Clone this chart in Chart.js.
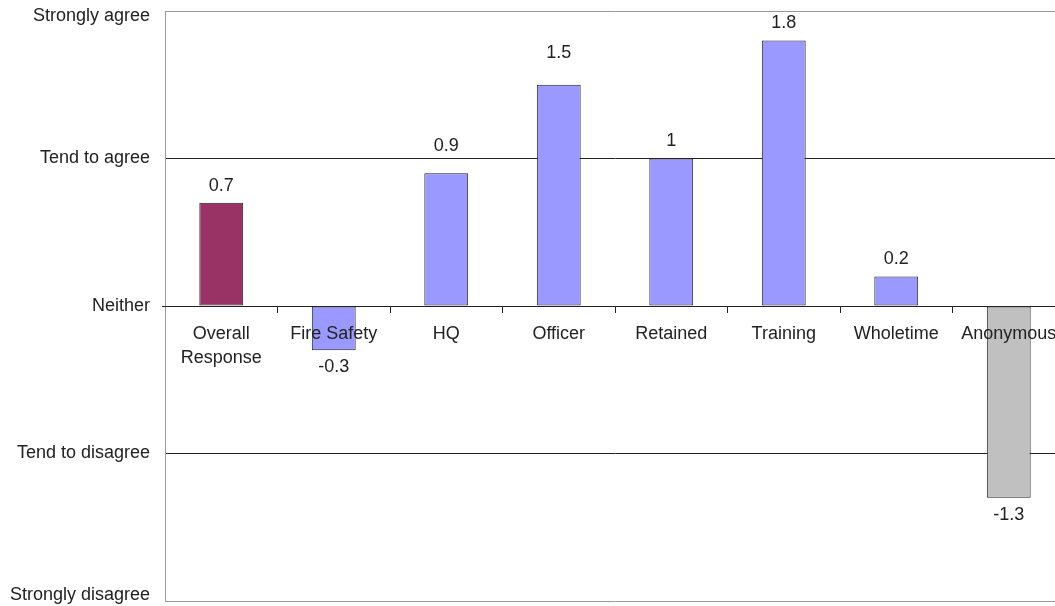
<!DOCTYPE html>
<html>
<head>
<meta charset="utf-8">
<script src="https://cdn.jsdelivr.net/npm/chart.js@4"></script>
<style>
  html, body { margin: 0; padding: 0; background: #fff; overflow: hidden; }
</style>
</head>
<body>
<canvas id="surveyChart" width="1070" height="606"></canvas>
<script>
// survey groups and their mean score (-2 .. 2)
const groups = [['Overall', 'Response'], 'Fire Safety', 'HQ', 'Officer', 'Retained', 'Training', 'Wholetime', 'Anonymous'];
const scores = [0.7, -0.3, 0.9, 1.5, 1, 1.8, 0.2, -1.3];
const scaleValues = [-2, -1, 0, 1, 2];
const scaleLabels = ['Strongly disagree', 'Tend to disagree', 'Neither', 'Tend to agree', 'Strongly agree'];
const barColours = ['#993366', '#9999FF', '#9999FF', '#9999FF', '#9999FF', '#9999FF', '#9999FF', '#C0C0C0'];
// extra lift for a couple of value labels sitting higher above their bar
const labelLift = [0, 0, 10, 15, 0, 0, 0, 0];

const FONT = 'Arial, "Liberation Sans", sans-serif';

// writes each bar's value just above (or below) the bar
const valueLabels = {
  id: 'valueLabels',
  afterDatasetsDraw(chart) {
    const ctx = chart.ctx;
    const meta = chart.getDatasetMeta(0);
    ctx.save();
    ctx.font = '18px ' + FONT;
    ctx.fillStyle = '#222';
    ctx.textAlign = 'center';
    ctx.textBaseline = 'middle';
    meta.data.forEach((bar, i) => {
      const v = scores[i];
      const y = v >= 0 ? bar.y - 17 - labelLift[i] : bar.y + 17;
      ctx.fillText(String(v), bar.x, y);
    });
    ctx.restore();
  }
};

// agreement scale labels, the end ones pulled in to stay clear of the edges
const scaleText = {
  id: 'scaleText',
  afterDraw(chart) {
    const ctx = chart.ctx;
    const y = chart.scales.y;
    ctx.save();
    ctx.font = '18px ' + FONT;
    ctx.fillStyle = '#222';
    ctx.textAlign = 'right';
    ctx.textBaseline = 'middle';
    scaleValues.forEach((v, i) => {
      const py = Math.min(Math.max(y.getPixelForValue(v), y.top + 5), y.bottom - 6);
      ctx.fillText(scaleLabels[i], y.right - 15, py);
    });
    // small stub of the zero line left of the axis
    ctx.strokeStyle = '#222';
    ctx.lineWidth = 1;
    const zy = Math.round(y.getPixelForValue(0)) + 0.5;
    ctx.beginPath();
    ctx.moveTo(y.right - 3, zy);
    ctx.lineTo(y.right, zy);
    ctx.stroke();
    ctx.restore();
  }
};

// no extra room for labels hanging past the plot edges
function noOverhang(scale) {
  scale.paddingTop = 0;
  scale.paddingBottom = 0;
  scale.paddingLeft = 0;
  scale.paddingRight = 0;
}

const ctx = document.getElementById('surveyChart').getContext('2d');
new Chart(ctx, {
  type: 'bar',
  data: {
    labels: groups,
    datasets: [{
      data: scores,
      backgroundColor: barColours,
      borderColor: '#222',
      borderWidth: 1,
      borderSkipped: false,
      barPercentage: 1,
      categoryPercentage: 0.39
    }]
  },
  options: {
    responsive: false,
    animation: false,
    layout: { padding: { top: 11, bottom: 5, right: 5, left: 0 } },
    plugins: {
      legend: { display: false },
      tooltip: { enabled: false }
    },
    scales: {
      x: {
        position: { y: 0 },
        afterFit(scale) { scale.height = 0; noOverhang(scale); },
        grid: {
          drawOnChartArea: false,
          drawTicks: true,
          tickLength: 6,
          color: c => (c.index === 0 ? 'rgba(0,0,0,0)' : '#222'),
          offset: true,
          z: 1
        },
        border: { display: true, color: '#222', width: 1, z: 1 },
        ticks: {
          color: '#222',
          padding: 10,
          maxRotation: 0,
          autoSkip: false,
          z: 1,
          font: { family: FONT, size: 18, lineHeight: 1.33 }
        }
      },
      y: {
        min: -2,
        max: 2,
        afterFit(scale) { scale.width = 165; noOverhang(scale); },
        afterBuildTicks(scale) {
          scale.ticks = scaleValues.map(v => ({ value: v }));
        },
        grid: {
          drawTicks: false,
          color: c => (Math.abs(c.tick.value) === 2 ? '#999' : '#222')
        },
        border: { display: true, color: '#999', width: 1 },
        ticks: {
          display: false
        }
      }
    }
  },
  plugins: [valueLabels, scaleText]
});
</script>
</body>
</html>
